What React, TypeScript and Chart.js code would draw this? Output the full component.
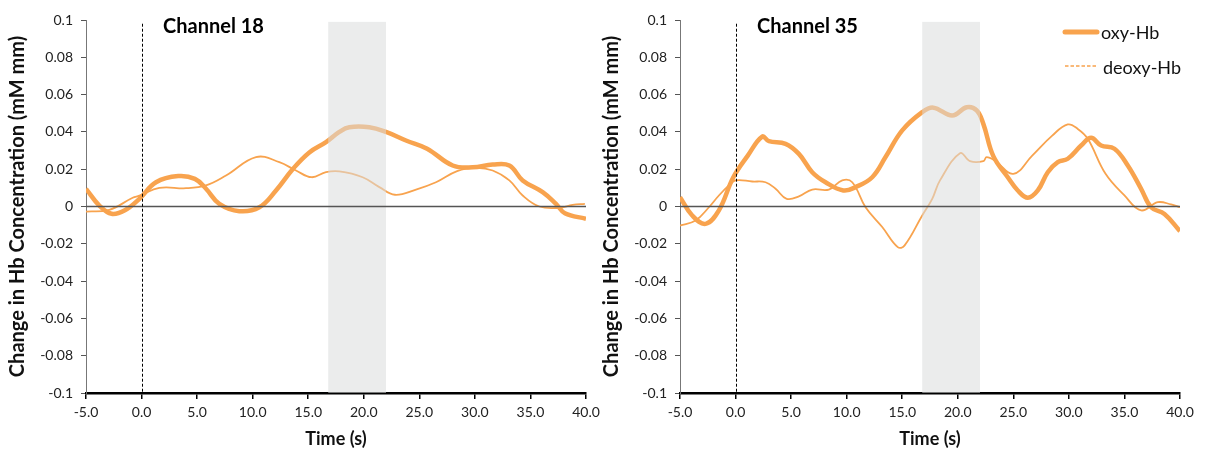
import React, { useEffect, useRef } from "react";
import { Chart, registerables } from "chart.js";

Chart.register(...registerables);

// ---------------- data ----------------
const CH18_OXY_T = [-5, -3.8, -2.7, -1.5, -0.2, 1.3, 3.3, 4.8, 5.8, 7.0, 8.8, 10.6, 12.1, 13.6, 15.1, 16.6, 17.8, 18.7, 20.5, 22.0, 23.8, 25.7, 28.0, 29.8, 31.6, 33.1, 34.3, 36.1, 37.3, 38.1, 40];
const CH18_OXY_V = [0.0095, 0.0005, -0.0039, -0.002, 0.0041, 0.013, 0.0163, 0.0148, 0.0095, 0.0014, -0.0025, -0.0004, 0.0086, 0.02, 0.029, 0.0345, 0.04, 0.0425, 0.0425, 0.04, 0.0354, 0.031, 0.022, 0.021, 0.0225, 0.022, 0.014, 0.0077, 0.0014, -0.0036, -0.0066];

const CH18_DEOXY_T = [-5, -2.9, -0.8, -0.2, 1.6, 4.0, 5.8, 7.6, 10.3, 12.4, 13.9, 15.3, 16.6, 17.8, 19.9, 21.4, 22.8, 24.7, 26.5, 28.4, 30.1, 31.6, 33.1, 34.3, 35.8, 37.6, 38.8, 39.9];
const CH18_DEOXY_V = [-0.0027, -0.0018, 0.0047, 0.0058, 0.01, 0.0098, 0.0113, 0.0166, 0.0265, 0.0238, 0.0193, 0.0157, 0.0184, 0.0188, 0.0157, 0.0104, 0.0063, 0.0091, 0.013, 0.019, 0.0207, 0.0193, 0.014, 0.0059, 0.0, -0.0007, 0.0009, 0.0014];

const CH35_OXY_T = [-5, -3.9, -2.7, -1.5, -0.2, 1.1, 2.4, 3.0, 4.5, 5.7, 6.9, 8.1, 9.7, 10.8, 12.3, 13.5, 15.0, 16.8, 17.8, 19.5, 20.8, 21.7, 22.3, 23.2, 24.5, 25.4, 26.3, 27.2, 28.1, 29.0, 29.9, 31.1, 32.0, 32.9, 34.1, 35.3, 36.5, 37.4, 38.6, 40];
const CH35_OXY_V = [0.005, -0.0048, -0.0093, -0.0021, 0.0157, 0.0273, 0.0375, 0.035, 0.0336, 0.0282, 0.0184, 0.013, 0.0086, 0.0104, 0.0157, 0.0265, 0.0408, 0.0506, 0.053, 0.0488, 0.0532, 0.0515, 0.0443, 0.027, 0.0157, 0.0086, 0.0047, 0.0086, 0.0184, 0.0238, 0.0256, 0.0327, 0.0368, 0.0327, 0.031, 0.022, 0.0095, -0.0004, -0.004, -0.0132];

const CH35_DEOXY_T = [-5, -3.6, -2.4, -1.5, -0.6, 0.0, 1.5, 2.7, 3.6, 4.6, 5.7, 6.9, 8.4, 9.6, 10.5, 11.7, 13.2, 14.6, 15.2, 16.8, 17.7, 18.4, 20.2, 21.1, 22.3, 22.6, 23.4, 25.0, 26.7, 28.5, 29.9, 30.8, 31.7, 33.3, 35.0, 36.5, 38.0, 39.2, 40];
const CH35_DEOXY_V = [-0.0102, -0.0075, -0.0004, 0.0059, 0.0113, 0.014, 0.0134, 0.013, 0.0095, 0.0041, 0.0054, 0.0091, 0.0091, 0.014, 0.013, -0.0004, -0.011, -0.0218, -0.021, -0.0048, 0.0041, 0.014, 0.0286, 0.0243, 0.0243, 0.0265, 0.0243, 0.0175, 0.0273, 0.038, 0.044, 0.0416, 0.0363, 0.0175, 0.0059, -0.0021, 0.0023, 0.0011, -0.0004];

const X_MIN = -5;
const X_MAX = 40;
const X_STEP = 5;
const Y_MIN = -0.1;
const Y_MAX = 0.1;
const Y_STEP = 0.02;
const SHADE_START = 16.8;
const SHADE_END = 22.0;
const SHADE_TOP = 0.099;
const ONSET_T = 0;
const ONSET_TOP = 0.098;

const SERIES_NAMES = ["oxy-Hb", "deoxy-Hb"];
const TITLES = ["Channel 18", "Channel 35"];
const Y_TITLE = "Change in Hb Concentration (mM mm)";
const X_TITLE = "Time (s)";

const ORANGE = "#F8A34E";
const FONT = "Lato, 'Open Sans', sans-serif";

const pts = (t: number[], v: number[]) => t.map((x, i) => ({ x, y: v[i] }));

const overlayPlugin = {
  id: "overlay",
  afterDatasetsDraw(chart: any) {
    const o = chart.options.plugins.overlay;
    const { ctx, chartArea } = chart;
    const xs = chart.scales.x;
    const ys = chart.scales.y;
    ctx.save();
    // stimulus shading drawn over the lines
    const x1 = xs.getPixelForValue(SHADE_START);
    const x2 = xs.getPixelForValue(SHADE_END);
    const yt = ys.getPixelForValue(SHADE_TOP);
    ctx.fillStyle = "rgba(218,221,221,0.55)";
    ctx.fillRect(x1, yt, x2 - x1, chartArea.bottom - yt);
    // zero line
    const y0 = ys.getPixelForValue(0);
    ctx.strokeStyle = "#555";
    ctx.lineWidth = 1.6;
    ctx.beginPath();
    ctx.moveTo(chartArea.left, y0);
    ctx.lineTo(chartArea.right, y0);
    ctx.stroke();
    // onset dashed line
    const xo = Math.round(xs.getPixelForValue(ONSET_T)) + 0.5;
    ctx.strokeStyle = "#000";
    ctx.lineWidth = 1;
    ctx.setLineDash([3, 2]);
    ctx.beginPath();
    ctx.moveTo(xo, ys.getPixelForValue(ONSET_TOP));
    ctx.lineTo(xo, chartArea.bottom);
    ctx.stroke();
    ctx.setLineDash([]);
    // channel title
    ctx.fillStyle = "#000";
    ctx.font = "bold 20px " + FONT;
    ctx.textBaseline = "middle";
    ctx.textAlign = "left";
    ctx.fillText(o.title, chartArea.left + 77, 27);
    // legend
    if (o.legend) {
      const lx = chartArea.left + 385;
      ctx.strokeStyle = ORANGE;
      ctx.lineCap = "round";
      ctx.lineWidth = 5;
      ctx.beginPath();
      ctx.moveTo(lx, 32);
      ctx.lineTo(lx + 32, 32);
      ctx.stroke();
      ctx.lineCap = "butt";
      ctx.lineWidth = 1.3;
      ctx.setLineDash([3.5, 2]);
      ctx.beginPath();
      ctx.moveTo(lx, 66);
      ctx.lineTo(lx + 33, 66);
      ctx.stroke();
      ctx.setLineDash([]);
      ctx.fillStyle = "#111";
      ctx.font = "18px " + FONT;
      ctx.fillText(SERIES_NAMES[0], lx + 36, 33);
      ctx.fillText(SERIES_NAMES[1], lx + 38, 68);
    }
    ctx.restore();
  },
};

function Panel(props: {
  oxyT: number[]; oxyV: number[]; deoxyT: number[]; deoxyV: number[];
  title: string; width: number; axisWidth: number; padRight: number; titlePad: number; legend: boolean;
}) {
  const ref = useRef<HTMLCanvasElement>(null);
  useEffect(() => {
    if (!ref.current) return;
    const chart = new Chart(ref.current, {
      type: "line",
      data: {
        datasets: [
          {
            label: SERIES_NAMES[0],
            data: pts(props.oxyT, props.oxyV),
            borderColor: ORANGE,
            borderWidth: 4.5,
            pointRadius: 0,
            tension: 0.4,
            fill: false,
          },
          {
            label: SERIES_NAMES[1],
            data: pts(props.deoxyT, props.deoxyV),
            borderColor: ORANGE,
            borderWidth: 1.8,
            pointRadius: 0,
            tension: 0.4,
            fill: false,
          },
        ],
      },
      options: {
        animation: false,
        responsive: false,
        events: [],
        layout: { padding: { top: 20, right: props.padRight, left: 0, bottom: 0 } },
        plugins: {
          legend: { display: false },
          tooltip: { enabled: false },
          // @ts-ignore
          overlay: { title: props.title, legend: props.legend },
        },
        scales: {
          x: {
            type: "linear",
            min: X_MIN,
            max: X_MAX,
            afterFit: (s: any) => { s.height = 63; },
            ticks: {
              stepSize: X_STEP,
              color: "#222",
              font: { family: FONT, size: 14 },
              padding: 5,
              maxRotation: 0,
              callback: (v: any) => Number(v).toFixed(1),
            },
            grid: { drawOnChartArea: false, drawTicks: true, tickLength: 6, color: "#000", lineWidth: 1.5 },
            border: { display: true, color: "#000", width: 2.5 },
            title: {
              display: true,
              text: X_TITLE,
              color: "#111",
              font: { family: FONT, size: 18, weight: "bold" },
              padding: { top: 0, bottom: 6 },
            },
          },
          y: {
            type: "linear",
            min: Y_MIN,
            max: Y_MAX,
            afterFit: (s: any) => { s.width = props.axisWidth; },
            ticks: {
              stepSize: Y_STEP,
              color: "#222",
              font: { family: FONT, size: 14 },
              padding: 8,
              callback: (v: any) => {
                const n = Number(Number(v).toFixed(2));
                return (n === 0 ? 0 : n).toString();
              },
            },
            grid: { drawOnChartArea: false, drawTicks: true, tickLength: 5, color: "#555", lineWidth: 1 },
            border: { display: true, color: "#777", width: 1 },
            title: {
              display: true,
              text: Y_TITLE,
              color: "#111",
              font: { family: FONT, size: 20, weight: "bold" },
              padding: { top: props.titlePad, bottom: 0 },
            },
          },
        },
      },
      plugins: [overlayPlugin],
    } as any);
    return () => chart.destroy();
  }, []);
  return <canvas ref={ref} width={props.width} height={456} style={{ display: "block", width: props.width, height: 456 }} />;
}

export default function App() {
  useEffect(() => {
    document.body.style.margin = "0";
  }, []);
  return (
    <div style={{ position: "fixed", left: 0, top: 0, width: 1205, height: 456, background: "#fff" }}>
      <div style={{ position: "absolute", left: 0, top: 0 }}>
        <Panel oxyT={CH18_OXY_T} oxyV={CH18_OXY_V} deoxyT={CH18_DEOXY_T} deoxyV={CH18_DEOXY_V}
          title={TITLES[0]} width={605} axisWidth={86} padRight={19} titlePad={6} legend={false} />
      </div>
      <div style={{ position: "absolute", left: 600, top: 0 }}>
        <Panel oxyT={CH35_OXY_T} oxyV={CH35_OXY_V} deoxyT={CH35_DEOXY_T} deoxyV={CH35_DEOXY_V}
          title={TITLES[1]} width={605} axisWidth={80} padRight={25} titlePad={0} legend={true} />
      </div>
    </div>
  );
}
